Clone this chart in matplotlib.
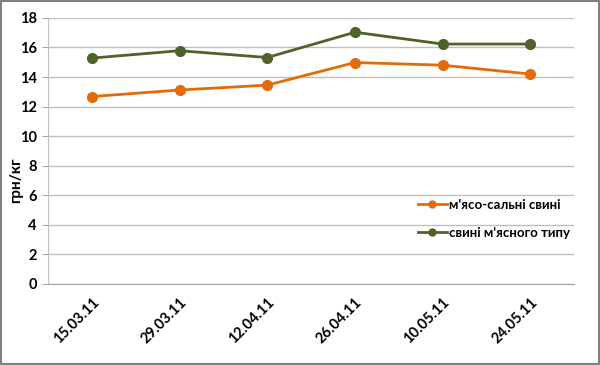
import matplotlib.pyplot as plt
import numpy as np

dates = ['15.03.11', '29.03.11', '12.04.11', '26.04.11', '10.05.11', '24.05.11']
meat_lard = [12.68, 13.12, 13.45, 14.98, 14.80, 14.20]
meat_type = [15.28, 15.78, 15.32, 17.03, 16.23, 16.23]

plt.rcParams['font.family'] = ['Lato', 'DejaVu Sans']

fig = plt.figure(figsize=(6, 3.65), dpi=100)
ax = fig.add_axes([0.08, 0.222, 0.877, 0.729])

x = np.arange(len(dates))
ax.plot(x, meat_lard, color='#E36C09', lw=2, marker='o', ms=7, label="м'ясо-сальні свині")
ax.plot(x, meat_type, color='#4F6228', lw=2, marker='o', ms=7, label="свині м'ясного типу")

ax.set_xlim(-0.5, len(dates) - 0.5)
ax.set_ylim(0, 18)
ax.set_yticks(range(0, 19, 2))
ax.set_xticks(x)
ax.set_xticklabels(dates, rotation=45, ha='right', rotation_mode='anchor', fontsize=10.5, fontweight='bold')
for lab in ax.get_yticklabels():
    lab.set_fontsize(10.5)
    lab.set_fontweight('bold')
ax.tick_params(axis='x', length=0, pad=8)
ax.tick_params(axis='y', length=4, color='#a6a6a6', pad=4)
ax.set_ylabel('грн/кг', fontsize=11, fontweight='bold')
ax.yaxis.set_label_coords(-0.048, 0.39)

ax.grid(axis='y', color='#bfbfbf', lw=1)
ax.set_axisbelow(True)
for s in ['top', 'right']:
    ax.spines[s].set_visible(False)
ax.spines['left'].set_color('#bfbfbf')
ax.spines['bottom'].set_color('#a6a6a6')

leg = ax.legend(loc='upper left', bbox_to_anchor=(0.68, 0.365), frameon=False,
                prop={'weight': 'bold', 'size': 9.5}, handlelength=2.2, handletextpad=0.2,
                labelspacing=1.2)
for h in leg.legend_handles:
    h.set_markersize(5)

fig.patches.append(plt.Rectangle((0.001, 0.002), 0.997, 0.996, transform=fig.transFigure,
                                 fill=False, edgecolor='#808080', lw=1.5))
fig.savefig('out.png', dpi=100)
